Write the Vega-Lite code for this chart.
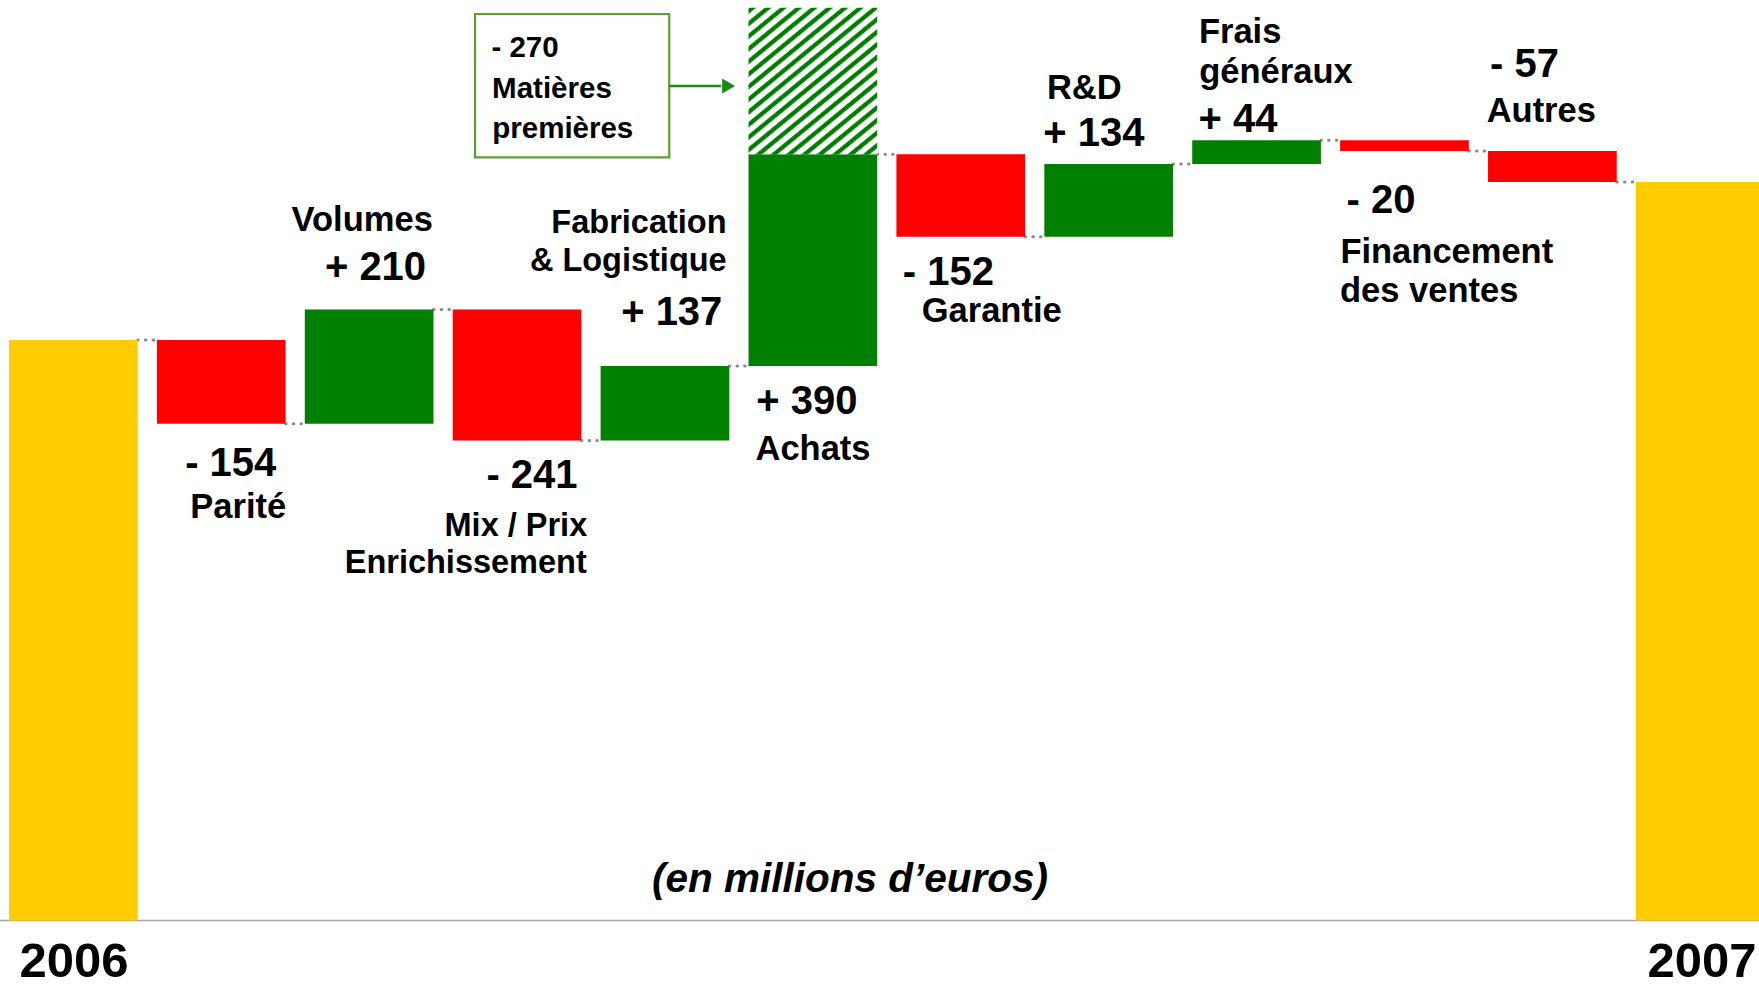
{
  "$schema": "https://vega.github.io/schema/vega-lite/v6.json",
  "width": 1759,
  "height": 988,
  "autosize": {"type": "none"},
  "padding": 0,
  "background": "white",
  "config": {"view": {"stroke": null}, "text": {"font": "Liberation Sans"}, "scale": {"continuousPadding": 0}},
  "datasets": {
    "bars": [
      {"cat": "2006", "idx": 0, "start": 0, "end": 1069, "type": "total"},
      {"cat": "Parité", "idx": 1, "start": 1069, "end": 915, "type": "neg"},
      {"cat": "Volumes", "idx": 2, "start": 915, "end": 1125, "type": "pos"},
      {"cat": "Mix / Prix Enrichissement", "idx": 3, "start": 1125, "end": 884, "type": "neg"},
      {"cat": "Fabrication & Logistique", "idx": 4, "start": 884, "end": 1021, "type": "pos"},
      {"cat": "Achats", "idx": 5, "start": 1021, "end": 1411, "type": "pos"},
      {"cat": "Matières premières", "idx": 5, "start": 1411, "end": 1681, "type": "hatch"},
      {"cat": "Garantie", "idx": 6, "start": 1411, "end": 1259, "type": "neg"},
      {"cat": "R&D", "idx": 7, "start": 1259, "end": 1393, "type": "pos"},
      {"cat": "Frais généraux", "idx": 8, "start": 1393, "end": 1437, "type": "pos"},
      {"cat": "Financement des ventes", "idx": 9, "start": 1437, "end": 1417, "type": "neg"},
      {"cat": "Autres", "idx": 10, "start": 1417, "end": 1360, "type": "neg"},
      {"cat": "2007", "idx": 11, "start": 0, "end": 1360, "type": "total"}
    ],
    "links": [
      {"from": 0, "to": 1, "level": 1069},
      {"from": 1, "to": 2, "level": 915},
      {"from": 2, "to": 3, "level": 1125},
      {"from": 3, "to": 4, "level": 884},
      {"from": 4, "to": 5, "level": 1021},
      {"from": 5, "to": 6, "level": 1411},
      {"from": 6, "to": 7, "level": 1259},
      {"from": 7, "to": 8, "level": 1393},
      {"from": 8, "to": 9, "level": 1437},
      {"from": 9, "to": 10, "level": 1417},
      {"from": 10, "to": 11, "level": 1360}
    ],
    "labels": [
      {"text": "Volumes", "kind": "name", "xi": 1.953, "yv": 1270.4},
      {"text": "+ 210", "kind": "num", "xi": 2.043, "yv": 1179.6},
      {"text": "- 154", "kind": "num", "xi": 1.064, "yv": 819.2},
      {"text": "Parité", "kind": "name", "xi": 1.115, "yv": 740.7},
      {"text": "Fabrication", "kind": "subname", "xi": 3.824, "yv": 1265.6},
      {"text": "& Logistique", "kind": "subname", "xi": 3.752, "yv": 1196.1},
      {"text": "+ 137", "kind": "num", "xi": 4.046, "yv": 1096.7},
      {"text": "- 241", "kind": "num", "xi": 3.101, "yv": 796.0},
      {"text": "Mix / Prix", "kind": "subname", "xi": 2.992, "yv": 708.1},
      {"text": "Enrichissement", "kind": "subname", "xi": 2.653, "yv": 640.5},
      {"text": "+ 390", "kind": "num", "xi": 4.960, "yv": 932.8},
      {"text": "Achats", "kind": "name", "xi": 5.001, "yv": 848.1},
      {"text": "R&D", "kind": "name", "xi": 6.835, "yv": 1512.9},
      {"text": "+ 134", "kind": "num", "xi": 6.900, "yv": 1426.3},
      {"text": "- 152", "kind": "num", "xi": 5.916, "yv": 1170.3},
      {"text": "Garantie", "kind": "name", "xi": 6.209, "yv": 1102.8},
      {"text": "Frais", "kind": "name", "xi": 7.889, "yv": 1615.5},
      {"text": "généraux", "kind": "name", "xi": 8.131, "yv": 1542.9},
      {"text": "+ 44", "kind": "num", "xi": 7.875, "yv": 1452.7},
      {"text": "- 57", "kind": "num", "xi": 9.811, "yv": 1552.9},
      {"text": "Autres", "kind": "name", "xi": 9.925, "yv": 1471.1},
      {"text": "- 20", "kind": "num", "xi": 8.841, "yv": 1303.5},
      {"text": "Financement", "kind": "name", "xi": 9.286, "yv": 1211.4},
      {"text": "des ventes", "kind": "name", "xi": 9.167, "yv": 1139.6},
      {"text": "- 270", "kind": "box", "xi": 3.054, "yv": 1590.8},
      {"text": "Matières", "kind": "box", "xi": 3.236, "yv": 1514.2},
      {"text": "premières", "kind": "box", "xi": 3.309, "yv": 1440.5},
      {"text": "(en millions d’euros)", "kind": "unit", "xi": 5.251, "yv": 53.0},
      {"text": "2006", "kind": "year", "xi": 0.004, "yv": -104.5},
      {"text": "2007", "kind": "year", "xi": 11.012, "yv": -104.5}
    ],
    "box": [
      {"x1": 2.716, "x2": 4.029, "ytop": 1669.4, "ybot": 1405.5}
    ],
    "arrow": [
      {"x1": 4.029, "x2": 4.38, "xh": 4.43, "yv": 1536.8}
    ]
  },
  "layer": [
    {
      "data": {"values": [{"base": 0}]},
      "mark": {"type": "rule", "color": "#a6a6a6", "strokeWidth": 1.5},
      "encoding": {
        "y": {"field": "base", "type": "quantitative", "scale": {"domain": [-124.3, 1695.2], "nice": false, "zero": false, "padding": 0}, "axis": null}
      }
    },
    {
      "data": {"name": "links"},
      "mark": {"type": "rule", "color": "#8a8a8a", "strokeWidth": 3, "strokeDash": [0.5, 7.2], "strokeCap": "round", "xOffset": 64.35, "x2Offset": -64.35},
      "encoding": {
        "x": {"field": "from", "type": "quantitative", "scale": {"domain": [-0.4959, 11.397], "nice": false, "zero": false, "padding": 0}, "axis": null},
        "x2": {"field": "to"},
        "y": {"field": "level", "type": "quantitative"}
      }
    },
    {
      "data": {"name": "bars"},
      "transform": [{"filter": "datum.type != 'hatch'"}],
      "mark": {"type": "bar", "width": 128.7},
      "encoding": {
        "x": {"field": "idx", "type": "quantitative"},
        "y": {"field": "start", "type": "quantitative"},
        "y2": {"field": "end"},
        "color": {
          "field": "type", "type": "nominal",
          "scale": {"domain": ["total", "neg", "pos"], "range": ["#FFCC00", "#FF0000", "#008000"]},
          "legend": null
        }
      }
    },
    {
      "data": {"name": "bars"},
      "transform": [{"filter": "datum.type == 'hatch'"}],
      "mark": {
        "type": "bar",
        "width": 128.7,
        "fill": {
          "gradient": "linear", "x1": 0, "y1": 0, "x2": 0.816, "y2": 1.133,
          "stops": [
            {"offset": 0, "color": "#ffffff"}, {"offset": 0.006, "color": "#008000"}, {"offset": 0.022, "color": "#008000"}, {"offset": 0.028, "color": "#ffffff"},
            {"offset": 0.05, "color": "#ffffff"}, {"offset": 0.056, "color": "#008000"}, {"offset": 0.072, "color": "#008000"}, {"offset": 0.078, "color": "#ffffff"},
            {"offset": 0.1, "color": "#ffffff"}, {"offset": 0.106, "color": "#008000"}, {"offset": 0.122, "color": "#008000"}, {"offset": 0.128, "color": "#ffffff"},
            {"offset": 0.15, "color": "#ffffff"}, {"offset": 0.156, "color": "#008000"}, {"offset": 0.172, "color": "#008000"}, {"offset": 0.178, "color": "#ffffff"},
            {"offset": 0.2, "color": "#ffffff"}, {"offset": 0.206, "color": "#008000"}, {"offset": 0.222, "color": "#008000"}, {"offset": 0.228, "color": "#ffffff"},
            {"offset": 0.25, "color": "#ffffff"}, {"offset": 0.256, "color": "#008000"}, {"offset": 0.272, "color": "#008000"}, {"offset": 0.278, "color": "#ffffff"},
            {"offset": 0.3, "color": "#ffffff"}, {"offset": 0.306, "color": "#008000"}, {"offset": 0.322, "color": "#008000"}, {"offset": 0.328, "color": "#ffffff"},
            {"offset": 0.35, "color": "#ffffff"}, {"offset": 0.356, "color": "#008000"}, {"offset": 0.372, "color": "#008000"}, {"offset": 0.378, "color": "#ffffff"},
            {"offset": 0.4, "color": "#ffffff"}, {"offset": 0.406, "color": "#008000"}, {"offset": 0.422, "color": "#008000"}, {"offset": 0.428, "color": "#ffffff"},
            {"offset": 0.45, "color": "#ffffff"}, {"offset": 0.456, "color": "#008000"}, {"offset": 0.472, "color": "#008000"}, {"offset": 0.478, "color": "#ffffff"},
            {"offset": 0.5, "color": "#ffffff"}, {"offset": 0.506, "color": "#008000"}, {"offset": 0.522, "color": "#008000"}, {"offset": 0.528, "color": "#ffffff"},
            {"offset": 0.55, "color": "#ffffff"}, {"offset": 0.556, "color": "#008000"}, {"offset": 0.572, "color": "#008000"}, {"offset": 0.578, "color": "#ffffff"},
            {"offset": 0.6, "color": "#ffffff"}, {"offset": 0.606, "color": "#008000"}, {"offset": 0.622, "color": "#008000"}, {"offset": 0.628, "color": "#ffffff"},
            {"offset": 0.65, "color": "#ffffff"}, {"offset": 0.656, "color": "#008000"}, {"offset": 0.672, "color": "#008000"}, {"offset": 0.678, "color": "#ffffff"},
            {"offset": 0.7, "color": "#ffffff"}, {"offset": 0.706, "color": "#008000"}, {"offset": 0.722, "color": "#008000"}, {"offset": 0.728, "color": "#ffffff"},
            {"offset": 0.75, "color": "#ffffff"}, {"offset": 0.756, "color": "#008000"}, {"offset": 0.772, "color": "#008000"}, {"offset": 0.778, "color": "#ffffff"},
            {"offset": 0.8, "color": "#ffffff"}, {"offset": 0.806, "color": "#008000"}, {"offset": 0.822, "color": "#008000"}, {"offset": 0.828, "color": "#ffffff"},
            {"offset": 0.85, "color": "#ffffff"}, {"offset": 0.856, "color": "#008000"}, {"offset": 0.872, "color": "#008000"}, {"offset": 0.878, "color": "#ffffff"},
            {"offset": 0.9, "color": "#ffffff"}, {"offset": 0.906, "color": "#008000"}, {"offset": 0.922, "color": "#008000"}, {"offset": 0.928, "color": "#ffffff"},
            {"offset": 0.95, "color": "#ffffff"}, {"offset": 0.956, "color": "#008000"}, {"offset": 0.972, "color": "#008000"}, {"offset": 0.978, "color": "#ffffff"},
            {"offset": 1, "color": "#ffffff"}
          ]
        }
      },
      "encoding": {
        "x": {"field": "idx", "type": "quantitative"},
        "y": {"field": "start", "type": "quantitative"},
        "y2": {"field": "end"}
      }
    },
    {
      "data": {"name": "box"},
      "mark": {"type": "rect", "filled": false, "stroke": "#5c9e31", "strokeWidth": 2.2},
      "encoding": {
        "x": {"field": "x1", "type": "quantitative"},
        "x2": {"field": "x2"},
        "y": {"field": "ytop", "type": "quantitative"},
        "y2": {"field": "ybot"}
      }
    },
    {
      "data": {"name": "arrow"},
      "mark": {"type": "rule", "color": "#178a17", "strokeWidth": 2.6},
      "encoding": {
        "x": {"field": "x1", "type": "quantitative"},
        "x2": {"field": "x2"},
        "y": {"field": "yv", "type": "quantitative"}
      }
    },
    {
      "data": {"name": "arrow"},
      "mark": {"type": "point", "shape": "triangle-right", "filled": true, "color": "#178a17", "size": 220, "opacity": 1},
      "encoding": {
        "x": {"field": "xh", "type": "quantitative"},
        "y": {"field": "yv", "type": "quantitative"}
      }
    },
    {
      "data": {"name": "labels"},
      "transform": [{"filter": "datum.kind == 'num'"}],
      "mark": {"type": "text", "fontSize": 40, "fontWeight": "bold", "align": "center", "baseline": "alphabetic", "color": "#000000"},
      "encoding": {
        "x": {"field": "xi", "type": "quantitative"},
        "y": {"field": "yv", "type": "quantitative"},
        "text": {"field": "text"}
      }
    },
    {
      "data": {"name": "labels"},
      "transform": [{"filter": "datum.kind == 'name'"}],
      "mark": {"type": "text", "fontSize": 34.5, "fontWeight": "bold", "align": "center", "baseline": "alphabetic", "color": "#000000"},
      "encoding": {
        "x": {"field": "xi", "type": "quantitative"},
        "y": {"field": "yv", "type": "quantitative"},
        "text": {"field": "text"}
      }
    },
    {
      "data": {"name": "labels"},
      "transform": [{"filter": "datum.kind == 'subname'"}],
      "mark": {"type": "text", "fontSize": 32.5, "fontWeight": "bold", "align": "center", "baseline": "alphabetic", "color": "#000000"},
      "encoding": {
        "x": {"field": "xi", "type": "quantitative"},
        "y": {"field": "yv", "type": "quantitative"},
        "text": {"field": "text"}
      }
    },
    {
      "data": {"name": "labels"},
      "transform": [{"filter": "datum.kind == 'box'"}],
      "mark": {"type": "text", "fontSize": 29.5, "fontWeight": "bold", "align": "center", "baseline": "alphabetic", "color": "#000000"},
      "encoding": {
        "x": {"field": "xi", "type": "quantitative"},
        "y": {"field": "yv", "type": "quantitative"},
        "text": {"field": "text"}
      }
    },
    {
      "data": {"name": "labels"},
      "transform": [{"filter": "datum.kind == 'unit'"}],
      "mark": {"type": "text", "fontSize": 40.5, "fontWeight": "bold", "fontStyle": "italic", "align": "center", "baseline": "alphabetic", "color": "#000000"},
      "encoding": {
        "x": {"field": "xi", "type": "quantitative"},
        "y": {"field": "yv", "type": "quantitative"},
        "text": {"field": "text"}
      }
    },
    {
      "data": {"name": "labels"},
      "transform": [{"filter": "datum.kind == 'year'"}],
      "mark": {"type": "text", "fontSize": 49, "fontWeight": "bold", "align": "center", "baseline": "alphabetic", "color": "#000000"},
      "encoding": {
        "x": {"field": "xi", "type": "quantitative"},
        "y": {"field": "yv", "type": "quantitative"},
        "text": {"field": "text"}
      }
    }
  ]
}
